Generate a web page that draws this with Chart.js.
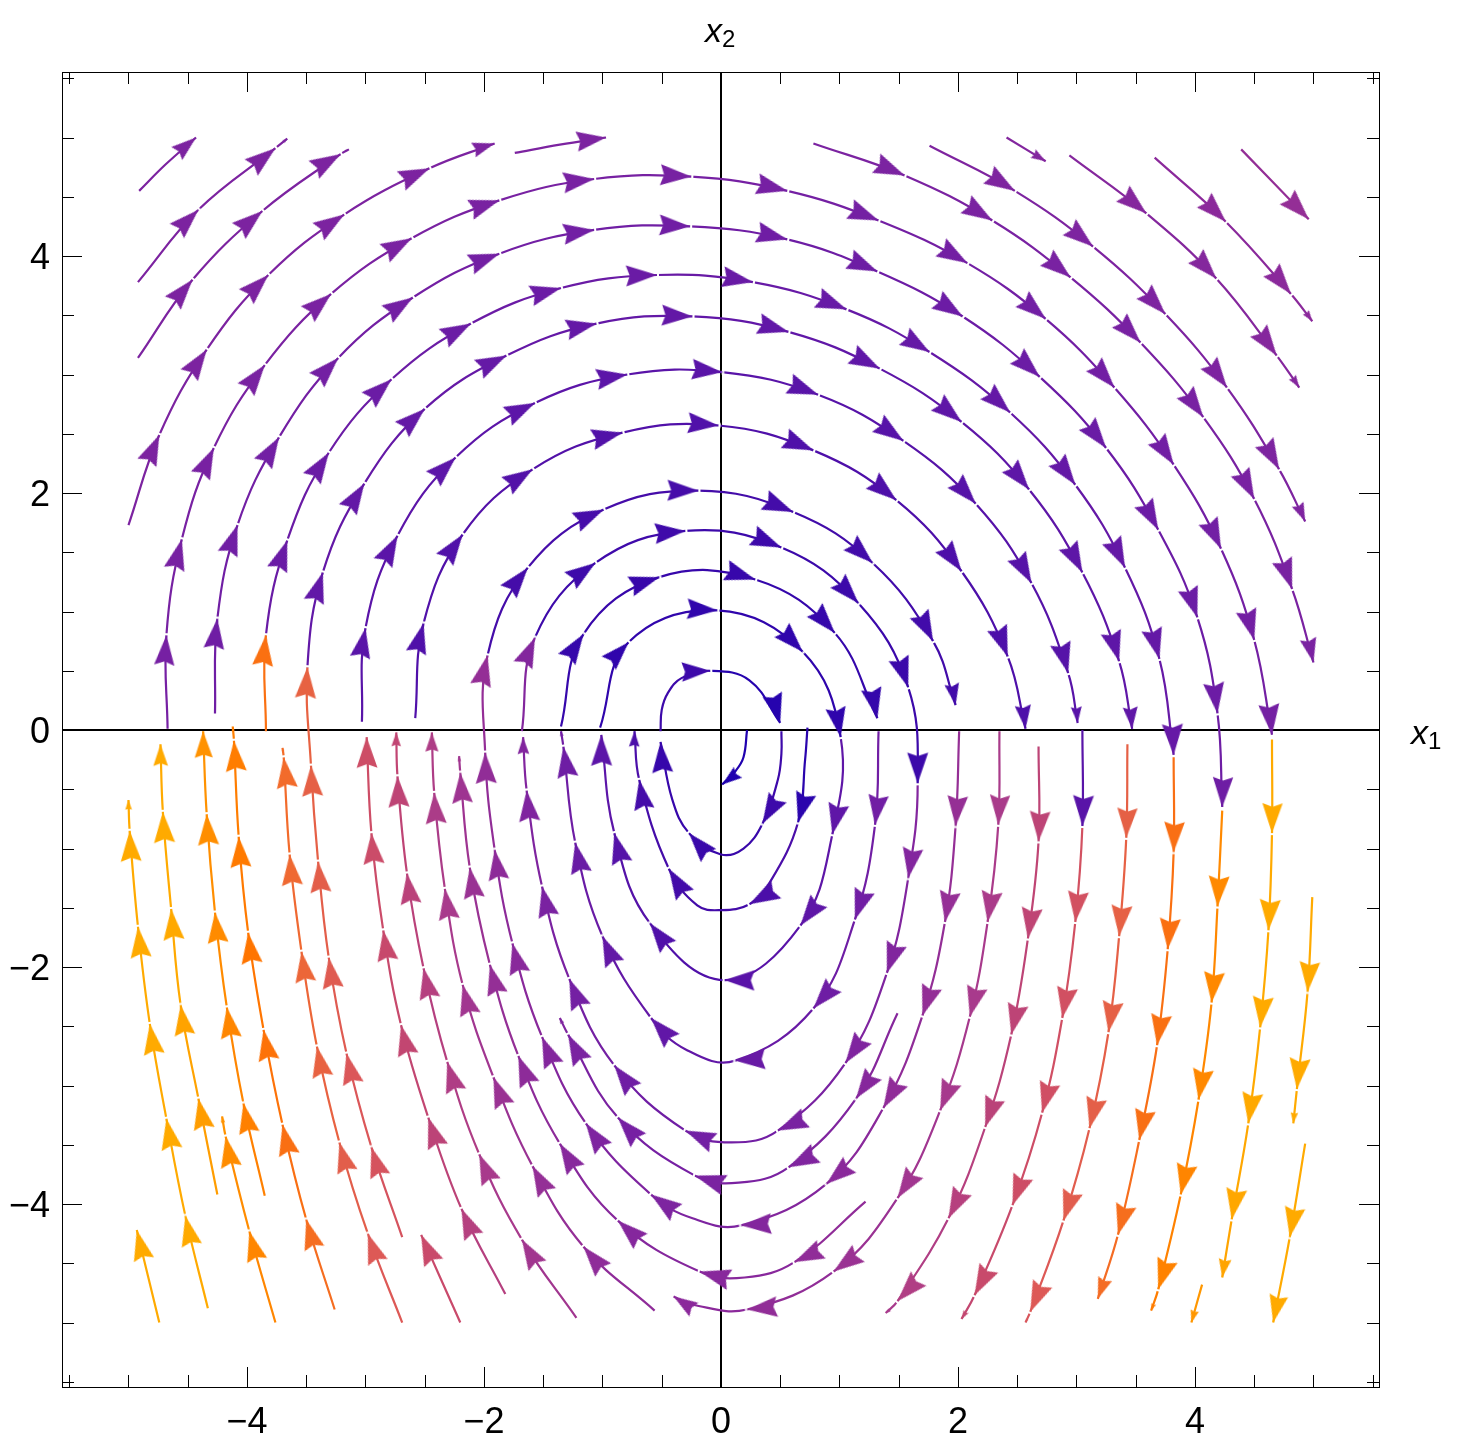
<!DOCTYPE html>
<html>
<head>
<meta charset="utf-8">
<title>Stream plot</title>
<script src="https://cdn.jsdelivr.net/npm/chart.js@4/dist/chart.umd.min.js"></script>
<style>
  html, body { margin: 0; background: #fff; }
  canvas { display: block; }
</style>
</head>
<body>
<canvas id="streamChart" width="1460" height="1450"></canvas>
<script>
// axis values
const tickMarks = [-5.5, -5, -4.5, -4, -3.5, -3, -2.5, -2, -1.5, -1, -0.5, 0, 0.5, 1, 1.5, 2, 2.5, 3, 3.5, 4, 4.5, 5, 5.5];
const tickLabels = [-4, -2, 0, 2, 4];

// streamlines, in flow order, as [x1, x2]
// every vertex after the first carries an arrow, a third value 0 means just a bend
const s01 = [[-4.91,4.55],[-4.69,4.77,0],[-4.43,5.00]];
const s02 = [[-4.92,3.78],[-4.41,4.39],[-3.76,4.91],[-3.66,4.99]];
const s03 = [[-4.92,3.14],[-4.46,3.80],[-3.87,4.38],[-3.21,4.86],[-3.14,4.90]];
const s04 = [[-5.00,1.73],[-4.74,2.49],[-4.34,3.21],[-3.82,3.84],[-3.18,4.35],[-2.46,4.74],[-1.91,4.95]];
const s05 = [[-1.74,4.87],[-1.36,4.94,0],[-0.97,5.00]];
const s06 = [[-4.67,0.01],[-4.68,0.80],[-4.55,1.61],[-4.28,2.38],[-3.85,3.08],[-3.29,3.68],[-2.61,4.15],[-1.87,4.47],[-1.07,4.65],[-0.25,4.67],[0.56,4.55],[1.33,4.30],[2.08,3.94],[2.74,3.47],[3.32,2.89],[3.82,2.24],[4.22,1.53],[4.50,0.76],[4.65,-0.04]];
const s07 = [[-4.27,0.14],[-4.25,0.94],[-4.08,1.73],[-3.73,2.47],[-3.23,3.14],[-2.60,3.65],[-1.87,4.02],[-1.07,4.22],[-0.26,4.25],[0.56,4.14],[1.32,3.87],[2.04,3.49],[2.69,2.98],[3.25,2.38],[3.69,1.69],[4.02,0.95],[4.19,0.14],[4.23,-0.65]];
const s08 = [[-3.84,-0.01],[-3.84,0.80],[-3.66,1.60],[-3.31,2.34],[-2.78,2.96],[-2.11,3.43],[-1.35,3.73],[-0.54,3.84],[0.27,3.78],[1.06,3.55],[1.76,3.19],[2.44,2.68],[2.99,2.07],[3.41,1.37],[3.70,0.60],[3.82,-0.21]];
const s09 = [[-2.69,-4.28],[-2.95,-3.52],[-3.16,-2.73],[-3.31,-1.92],[-3.40,-1.11],[-3.46,-0.30],[-3.49,0.53],[-3.36,1.33],[-3.01,2.08],[-2.50,2.71],[-1.81,3.16],[-1.05,3.43],[-0.24,3.49],[0.57,3.36],[1.34,3.05],[2.03,2.60],[2.60,2.03],[3.05,1.33],[3.36,0.58],[3.47,0.01]];
const s10 = [[-3.03,0.07],[-3.00,0.86],[-2.73,1.64],[-2.24,2.30],[-1.57,2.76],[-0.79,3.00],[0.01,3.02],[0.82,2.83],[1.54,2.44],[2.15,1.91],[2.62,1.24],[2.93,0.48],[3.01,0.06]];
const s11 = [[-2.58,0.10],[-2.51,0.90],[-2.18,1.65],[-1.59,2.20],[-0.83,2.51],[-0.02,2.57],[0.78,2.36],[1.48,1.94],[2.03,1.34],[2.42,0.62],[2.57,0.01]];
const s12 = [[2.01,-0.01],[1.98,-0.81],[1.89,-1.62],[1.70,-2.41],[1.37,-3.19],[0.89,-3.83],[0.17,-4.18],[-0.24,-4.12,0],[-0.59,-3.92],[-1.14,-3.32],[-1.51,-2.59],[-1.76,-1.80],[-1.91,-1.01],[-1.99,-0.19],[-1.97,0.63],[-1.63,1.37],[-0.99,1.86],[-0.19,2.02],[0.61,1.84],[1.28,1.41],[1.79,0.75],[1.98,0.21]];
const s13 = [[-1.68,-0.01],[-1.57,0.78],[-1.06,1.41],[-0.30,1.68],[0.51,1.54],[1.16,1.07],[1.58,0.36],[1.66,-0.45],[1.58,-1.25],[1.40,-2.05],[1.05,-2.81],[0.48,-3.38],[0.09,-3.48,0],[-0.30,-3.38],[-0.90,-2.83],[-1.28,-2.10],[-1.51,-1.32],[-1.64,-0.51],[-1.67,-0.06]];
const s14 = [[-1.35,0.03],[-1.16,0.81],[-0.52,1.29],[0.29,1.27],[0.96,0.82],[1.32,0.10]];
const s15 = [[1.33,-0.01],[1.30,-0.80],[1.13,-1.60],[0.78,-2.35],[0.12,-2.79],[-0.29,-2.70,0],[-0.59,-2.43],[-1.00,-1.74],[-1.23,-0.95],[-1.33,-0.14],[-1.35,-0.01]];
const s16 = [[-1.02,0.02],[-0.78,0.74],[-0.03,1.01],[0.69,0.66],[1.01,-0.06],[0.94,-0.88],[0.67,-1.65],[0.03,-2.11],[-0.60,-1.63],[-0.90,-0.87],[-1.01,-0.04]];
const s17 = [[-0.51,-0.01],[-0.50,0.17,0],[-0.45,0.31,0],[-0.33,0.44,0],[-0.09,0.50],[0.24,0.42,0],[0.50,0.06]];
const s18 = [[0.51,-0.01],[0.51,-0.20,0],[0.48,-0.42,0],[0.35,-0.79],[0.19,-1.00,0],[0,-1.05,0],[-0.27,-0.87],[-0.41,-0.59,0],[-0.51,-0.10]];
const s19 = [[0.73,0.02],[0.71,-0.25,0],[0.65,-0.78],[0.41,-1.29,0],[0.24,-1.47],[0,-1.52,0],[-0.20,-1.48,0],[-0.44,-1.17],[-0.69,-0.42],[-0.73,-0.01]];
const s20 = [[0.22,0.00],[0.19,-0.23,0],[0.12,-0.35,0],[0.01,-0.46]];
const s21 = [[2.35,-0.01],[2.34,-0.80],[2.25,-1.62],[2.10,-2.42],[1.85,-3.21],[1.49,-3.95],[0.95,-4.57],[0.22,-4.89],[-0.24,-4.85,0],[-0.40,-4.78]];
const s22 = [[2.68,-0.14],[2.68,-0.94],[2.59,-1.76],[2.45,-2.57],[2.23,-3.35],[1.92,-4.12],[1.49,-4.82],[1.39,-4.92]];
const s23 = [[3.05,0.00],[3.05,-0.81],[2.99,-1.62],[2.88,-2.43],[2.71,-3.23],[2.46,-4.01],[2.14,-4.77],[2.03,-4.97]];
const s24 = [[3.43,-0.12],[3.42,-0.91],[3.36,-1.74],[3.27,-2.55],[3.11,-3.36],[2.89,-4.14],[2.61,-4.91],[2.57,-5.00]];
const s25 = [[3.82,-0.23],[3.82,-1.03],[3.77,-1.85],[3.68,-2.66],[3.53,-3.46],[3.35,-4.26],[3.18,-4.80]];
const s26 = [[4.23,-0.68],[4.19,-1.49],[4.14,-2.30],[4.03,-3.12],[3.88,-3.92],[3.69,-4.72],[3.63,-4.90]];
const s27 = [[4.65,-0.08],[4.65,-0.87],[4.62,-1.69],[4.55,-2.51],[4.45,-3.32],[4.31,-4.13],[4.23,-4.62]];
const s28 = [[4.99,-1.41],[4.95,-2.21],[4.86,-3.03],[4.83,-3.32]];
const s29 = [[4.93,-3.49],[4.80,-4.28],[4.66,-5.00]];
const s30 = [[4.06,-4.68],[3.97,-5.00]];
const s31 = [[1.49,-2.39],[1.14,-3.11],[0.57,-3.69],[0.15,-3.82,0],[-0.22,-3.76],[-0.87,-3.27],[-1.29,-2.57],[-1.36,-2.43]];
const s32 = [[1.22,-3.98],[0.62,-4.49],[0.20,-4.62,0],[-0.18,-4.57],[-0.87,-4.14],[-1.36,-3.49],[-1.71,-2.75],[-1.95,-1.98],[-2.12,-1.16],[-2.20,-0.36],[-2.21,-0.22]];
const s33 = [[-0.56,-4.90],[-1.16,-4.36],[-1.59,-3.68],[-1.92,-2.93],[-2.18,-2.15],[-2.33,-1.34],[-2.42,-0.53],[-2.44,-0.02]];
const s34 = [[-1.22,-4.96],[-1.68,-4.30],[-2.04,-3.58],[-2.31,-2.80],[-2.51,-2.01],[-2.65,-1.21],[-2.73,-0.39],[-2.74,-0.02]];
const s35 = [[-1.82,-4.76],[-2.19,-4.04],[-2.47,-3.27],[-2.70,-2.49],[-2.85,-1.69],[-2.95,-0.87],[-2.99,-0.06]];
const s36 = [[-2.20,-5.00],[-2.53,-4.26]];
const s37 = [[-2.69,-5.00],[-2.98,-4.25],[-3.22,-3.48],[-3.41,-2.67],[-3.54,-1.87],[-3.64,-1.05],[-3.69,-0.23],[-3.70,-0.15]];
const s38 = [[-3.26,-4.89],[-3.50,-4.13],[-3.70,-3.33],[-3.86,-2.53],[-3.99,-1.71],[-4.07,-0.90],[-4.11,-0.09],[-4.12,0.03]];
const s39 = [[-3.76,-5.00],[-3.98,-4.23],[-4.18,-3.43],[-4.21,-3.26]];
const s40 = [[-3.85,-3.93],[-4.03,-3.15],[-4.17,-2.34],[-4.27,-1.54],[-4.34,-0.71],[-4.37,-0.01]];
const s41 = [[-4.25,-3.92],[-4.41,-3.11],[-4.56,-2.32],[-4.64,-1.51],[-4.71,-0.69],[-4.73,-0.12]];
const s42 = [[-4.33,-4.88],[-4.52,-4.10],[-4.68,-3.28],[-4.82,-2.48],[-4.92,-1.66],[-4.99,-0.85],[-5.00,-0.59]];
const s43 = [[-4.74,-5.00],[-4.93,-4.22]];
const s44 = [[0.78,4.95],[1.55,4.68],[2.29,4.30],[2.95,3.82],[3.54,3.27],[4.07,2.64],[4.50,1.95],[4.82,1.19],[5.00,0.57]];
const s45 = [[1.76,4.93],[2.48,4.55],[3.14,4.08],[3.75,3.51],[4.27,2.89],[4.71,2.20],[4.93,1.76]];
const s46 = [[2.94,4.85],[3.59,4.36],[4.18,3.81],[4.69,3.16],[4.88,2.89]];
const s47 = [[3.66,4.83],[4.26,4.29],[4.81,3.68],[4.99,3.45]];
const s48 = [[4.39,4.90],[4.96,4.31]];
const s49 = [[2.41,5.00],[2.74,4.80]];

const streams = [s01, s02, s03, s04, s05, s06, s07, s08, s09, s10, s11, s12, s13, s14, s15, s16, s17,
  s18, s19, s20, s21, s22, s23, s24, s25, s26, s27, s28, s29, s30, s31, s32, s33, s34, s35, s36, s37,
  s38, s39, s40, s41, s42, s43, s44, s45, s46, s47, s48, s49];

// speed colour ramp, blue through magenta to amber
const ramp = [
  [0, "#1c00b0"], [0.1, "#3a08aa"], [0.2, "#5a14a8"], [0.3, "#7520a3"], [0.4, "#8c2a9a"], [0.5, "#a83a8c"],
  [0.6, "#c4476f"], [0.7, "#dc5858"], [0.78, "#f06a30"], [0.85, "#ff7300"], [0.92, "#ff8c00"], [1, "#ffaa00"]
];

const pxPerUnit = 118.5;

function rgb(hex) {
  return [1, 3, 5].map(i => parseInt(hex.substr(i, 2), 16));
}

function rampColor(t) {
  t = Math.min(1, Math.max(0, t));
  for (let i = 1; i < ramp.length; i++) {
    if (t <= ramp[i][0]) {
      const f = (t - ramp[i - 1][0]) / (ramp[i][0] - ramp[i - 1][0]);
      const a = rgb(ramp[i - 1][1]), b = rgb(ramp[i][1]);
      return `rgb(${a.map((v, k) => Math.round(v + (b[k] - v) * f)).join(",")})`;
    }
  }
  return ramp[ramp.length - 1][1];
}

// colour depends on where an arrow's stretch of line begins
function colorAt(x, y) {
  if (y >= 0) {
    const r = Math.hypot(x, y) * 0.065;
    return rampColor(x < 0 ? Math.min(r, 0.33) : r);
  }
  return rampColor(Math.hypot(0.215 * x, 0.08 * y));
}

const headCache = new Map();

// arrow head drawn pointing up, tip in the middle of its canvas so rotation turns it about the tip
function headImage(color, len, gap) {
  const key = `${color}|${len.toFixed(1)}|${gap}`;
  if (headCache.has(key)) return headCache.get(key);
  const size = Math.ceil(2 * (len + 6));
  const c = size / 2;
  const cv = document.createElement("canvas");
  cv.width = cv.height = size;
  const g = cv.getContext("2d");
  const w = len * 0.68;
  g.fillStyle = color;
  g.beginPath();
  g.moveTo(c, c);
  g.lineTo(c + w / 2, c + len);
  g.lineTo(c, c + len * 0.88);
  g.lineTo(c - w / 2, c + len);
  g.closePath();
  g.fill();
  if (gap) {
    // small white break in the line just ahead of the tip
    g.fillStyle = "#fff";
    g.fillRect(c - 2.5, c - 2, 5, 2);
  }
  headCache.set(key, cv);
  return cv;
}

function headAngle(pts, i) {
  const p = pts[i], a = pts[i - 1], b = pts[i + 1];
  const d1 = [p[0] - a[0], p[1] - a[1]];
  const l1 = Math.hypot(d1[0], d1[1]);
  if (b) {
    const d2 = [b[0] - p[0], b[1] - p[1]];
    const l2 = Math.hypot(d2[0], d2[1]);
    const tx = d1[0] / l1 * l2 + d2[0] / l2 * l1;
    const ty = d1[1] / l1 * l2 + d2[1] / l2 * l1;
    return Math.atan2(tx, ty) * 180 / Math.PI;
  }
  let ang = Math.atan2(d1[0], d1[1]);
  if (pts[i - 2]) {
    const q = pts[i - 2];
    let diff = ang - Math.atan2(a[0] - q[0], a[1] - q[1]);
    if (diff > Math.PI) diff -= 2 * Math.PI;
    if (diff < -Math.PI) diff += 2 * Math.PI;
    ang += diff / 2;
  }
  return ang * 180 / Math.PI;
}

// one scatter dataset per streamline, line plus heads
function buildDataset(pts) {
  const segColor = [];
  const heads = [];
  let from = pts[0];
  let run = 0;
  for (let i = 1; i < pts.length; i++) {
    const color = colorAt(from[0], from[1]);
    segColor[i - 1] = color;
    run += Math.hypot(pts[i][0] - pts[i - 1][0], pts[i][1] - pts[i - 1][1]) * pxPerUnit;
    if (pts[i].length === 2) {
      const last = i === pts.length - 1;
      heads[i] = {
        image: headImage(color, Math.min(31, run * 0.32), !last),
        angle: headAngle(pts, i)
      };
      from = pts[i];
      run = 0;
    }
  }
  return {
    data: pts.map(p => ({ x: p[0], y: p[1] })),
    showLine: true,
    tension: 0.4,
    borderWidth: 2.2,
    borderColor: segColor[0],
    segment: { borderColor: ctx => segColor[ctx.p0DataIndex] },
    pointRadius: ctx => (heads[ctx.dataIndex] ? 1 : 0),
    pointStyle: ctx => (heads[ctx.dataIndex] ? heads[ctx.dataIndex].image : "circle"),
    pointRotation: ctx => (heads[ctx.dataIndex] ? heads[ctx.dataIndex].angle : 0)
  };
}

// frame, inward ticks on all four sides and the two axis names
const framePlugin = {
  id: "frame",
  beforeDatasetsDraw(chart) {
    const { ctx, chartArea: a, scales } = chart;
    ctx.save();
    ctx.strokeStyle = "#000";
    ctx.lineWidth = 1;
    ctx.strokeRect(a.left + 0.5, a.top + 0.5, a.right - a.left, a.bottom - a.top);
    ctx.beginPath();
    tickMarks.forEach(v => {
      const len = tickLabels.includes(v) ? 20 : 12;
      const px = Math.round(scales.x.getPixelForValue(v)) + 0.5;
      const py = Math.round(scales.y.getPixelForValue(v)) + 0.5;
      ctx.moveTo(px, a.top); ctx.lineTo(px, a.top + len);
      ctx.moveTo(px, a.bottom); ctx.lineTo(px, a.bottom - len);
      ctx.moveTo(a.left, py); ctx.lineTo(a.left + len, py);
      ctx.moveTo(a.right, py); ctx.lineTo(a.right - len, py);
    });
    ctx.stroke();
    ctx.restore();
  },
  afterDraw(chart) {
    const { ctx, chartArea: a, scales } = chart;
    const x0 = scales.x.getPixelForValue(0);
    const y0 = scales.y.getPixelForValue(0);
    const axisName = (sub, left, base) => {
      ctx.font = "italic 34px 'Liberation Sans'";
      ctx.fillText("x", left, base);
      ctx.font = "24px 'Liberation Sans'";
      ctx.fillText(sub, left + 17, base + 5);
    };
    ctx.save();
    ctx.fillStyle = "#000";
    ctx.textAlign = "left";
    ctx.textBaseline = "alphabetic";
    axisName("2", x0 - 16, a.top - 30);
    axisName("1", a.right + 32, y0 + 14);
    ctx.restore();
  }
};

const tickStyle = {
  color: "#000",
  autoSkip: false,
  maxRotation: 0,
  font: { family: "'Liberation Sans'", size: 36 },
  callback: v => String(v).replace("-", "\u2212")
};

const axisGrid = {
  color: ctx => (ctx.tick && ctx.tick.value === 0 ? "#000" : "rgba(0,0,0,0)"),
  lineWidth: 2,
  drawTicks: false
};

function useLabelTicks(scale) {
  scale.ticks = tickLabels.map(v => ({ value: v }));
}

new Chart(document.getElementById("streamChart"), {
  type: "scatter",
  data: { datasets: streams.map(buildDataset) },
  plugins: [framePlugin],
  options: {
    responsive: false,
    animation: false,
    devicePixelRatio: 1,
    events: [],
    layout: { padding: { top: 72, right: 81, left: 0, bottom: 0 } },
    plugins: { legend: { display: false }, tooltip: { enabled: false } },
    scales: {
      x: {
        type: "linear",
        min: -5.561,
        max: 5.553,
        grid: axisGrid,
        border: { display: false },
        ticks: { ...tickStyle, padding: 14 },
        afterBuildTicks: useLabelTicks,
        afterFit(scale) { scale.height = 63; }
      },
      y: {
        type: "linear",
        min: -5.544,
        max: 5.553,
        grid: axisGrid,
        border: { display: false },
        ticks: { ...tickStyle, padding: 12, labelOffset: 3 },
        afterBuildTicks: useLabelTicks,
        afterFit(scale) { scale.width = 62; }
      }
    }
  }
});
</script>
</body>
</html>
